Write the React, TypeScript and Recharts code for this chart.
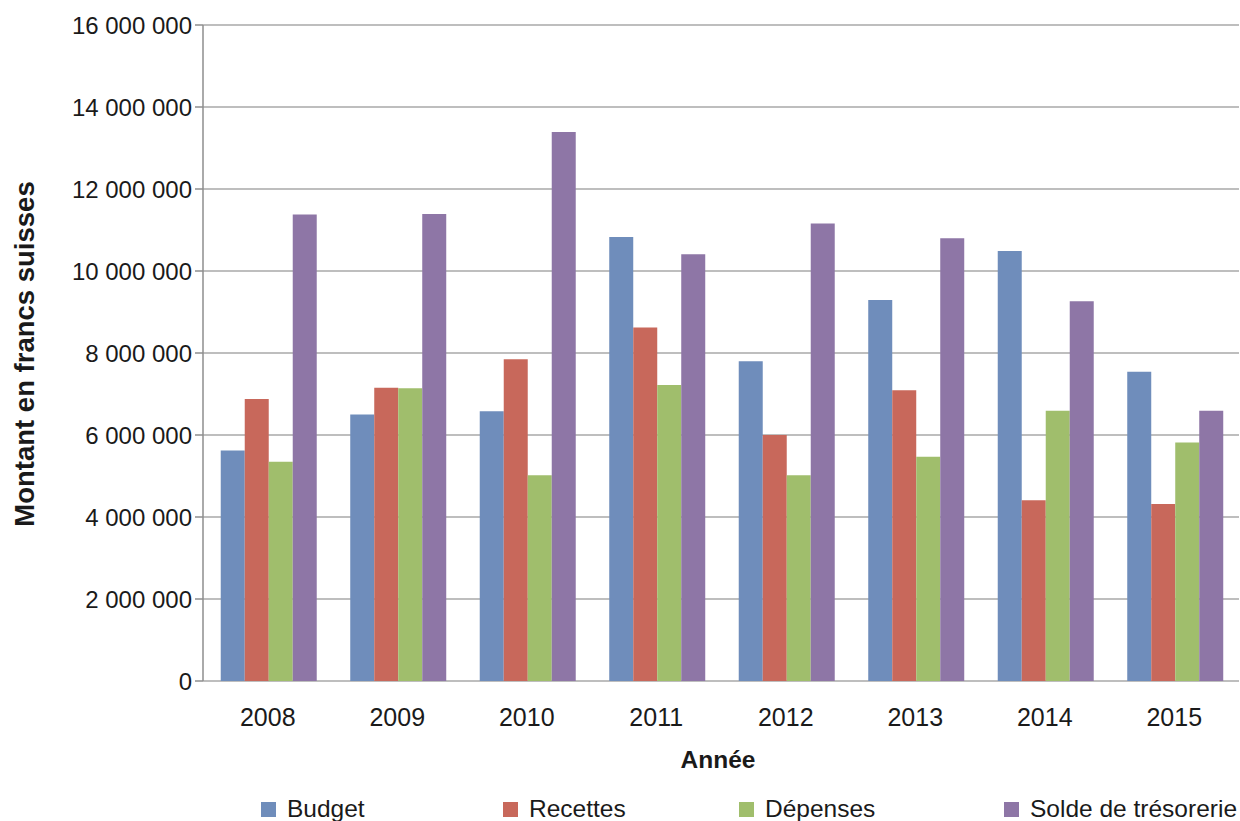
import React from 'react';
import { BarChart, Bar, XAxis, YAxis, CartesianGrid, Legend } from 'recharts';

const years = ['2008', '2009', '2010', '2011', '2012', '2013', '2014', '2015'];
const budget = [5620000, 6500000, 6580000, 10830000, 7800000, 9290000, 10490000, 7540000];
const recettes = [6880000, 7150000, 7850000, 8620000, 6000000, 7090000, 4410000, 4320000];
const depenses = [5350000, 7140000, 5020000, 7220000, 5020000, 5470000, 6590000, 5820000];
const solde = [11380000, 11390000, 13390000, 10410000, 11160000, 10800000, 9260000, 6590000];
const yTicks = [0, 2000000, 4000000, 6000000, 8000000, 10000000, 12000000, 14000000, 16000000];
const edgeTicks = [0, 1, 2, 3, 4, 5, 6, 7, 8];

const seriesNames = ['Budget', 'Recettes', 'Dépenses', 'Solde de trésorerie'];
const seriesColors = ['#6F8DBB', '#C8685B', '#A0BE6C', '#8E76A6'];
const seriesKeys = ['budget', 'recettes', 'depenses', 'solde'];

const data = years.map((y, i) => ({
  year: y,
  budget: budget[i],
  recettes: recettes[i],
  depenses: depenses[i],
  solde: solde[i],
}));

const FONT = '"Liberation Sans", Arial, sans-serif';
const legendLefts = [261, 503, 739, 1004];

const fmt = (v: number) => String(v).replace(/\B(?=(\d{3})+(?!\d))/g, ' ');

const LegendContent = () => (
  <div style={{ position: 'relative', width: 1240, height: 30, fontFamily: FONT, fontSize: 24.5, color: '#1a1a1a' }}>
    {seriesNames.map((n, i) => (
      <div key={n} style={{ position: 'absolute', left: legendLefts[i], top: 3, height: 30, display: 'flex', alignItems: 'center', whiteSpace: 'nowrap' }}>
        <span style={{ display: 'inline-block', width: 15, height: 15, background: seriesColors[i], marginRight: 11 }} />
        <span>{n}</span>
      </div>
    ))}
  </div>
);

export default function App() {
  return (
    <div style={{ position: 'absolute', left: 0, top: 0, width: 1240, height: 821, background: '#fff' }}>
      <BarChart
        width={1240}
        height={821}
        data={data}
        margin={{ top: 25, right: 1, bottom: 0, left: 0 }}
        barCategoryGap="13.7%"
        barGap={0}
      >
        <CartesianGrid horizontal vertical={false} stroke="#A8A8A8" strokeWidth={1.5} />
        <XAxis
          xAxisId="edges"
          type="number"
          domain={[0, 8]}
          allowDataOverflow
          ticks={edgeTicks}
          height={0}
          tickSize={8}
          tickFormatter={() => ''}
          axisLine={{ stroke: '#8E8E8E', strokeWidth: 1.5 }}
          tickLine={{ stroke: '#8E8E8E', strokeWidth: 1.5 }}
        />
        <XAxis
          xAxisId="cat"
          dataKey="year"
          height={110}
          axisLine={false}
          tickLine={false}
          tickSize={8}
          tickMargin={19}
          interval={0}
          tick={{ fill: '#1a1a1a', fontSize: 25, fontFamily: FONT }}
          label={{
            content: (props: any) => {
              const vb = props.viewBox || {};
              return (
                <text
                  x={vb.x + vb.width / 2 - 3}
                  y={vb.y + 87}
                  textAnchor="middle"
                  fontFamily={FONT}
                  fontSize={24.5}
                  fontWeight="bold"
                  fill="#1a1a1a"
                >
                  Année
                </text>
              );
            },
          }}
        />
        <YAxis
          width={203}
          domain={[0, 16000000]}
          ticks={yTicks}
          interval={0}
          tickFormatter={fmt}
          tickSize={8}
          tickMargin={3}
          axisLine={{ stroke: '#8E8E8E', strokeWidth: 1.5 }}
          tickLine={{ stroke: '#8E8E8E', strokeWidth: 1.5 }}
          tick={{ fill: '#1a1a1a', fontSize: 24, fontFamily: FONT }}
          label={{
            content: (props: any) => {
              const vb = props.viewBox || {};
              const cx = 24;
              const cy = vb.y + vb.height / 2 + 1;
              return (
                <text
                  x={cx}
                  y={cy}
                  textAnchor="middle"
                  dominantBaseline="central"
                  transform={`rotate(-90, ${cx}, ${cy})`}
                  fontFamily={FONT}
                  fontSize={27.5}
                  fontWeight="bold"
                  fill="#1a1a1a"
                >
                  Montant en francs suisses
                </text>
              );
            },
          }}
        />
        {seriesKeys.map((k, i) => (
          <Bar key={k} xAxisId="cat" dataKey={k} name={seriesNames[i]} fill={seriesColors[i]} isAnimationActive={false} />
        ))}
        <Legend verticalAlign="bottom" align="left" content={LegendContent} />
      </BarChart>
    </div>
  );
}
